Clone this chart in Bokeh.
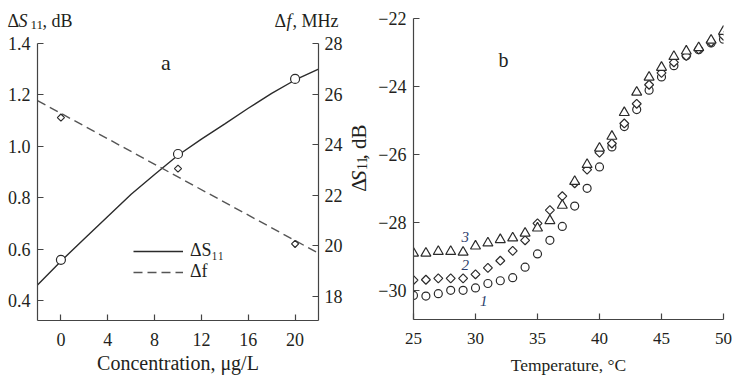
import math
from bokeh.plotting import figure
from bokeh.models import Range1d, LinearAxis, Label, Legend, LegendItem, FixedTicker
from bokeh.layouts import row, column
from bokeh.embed import file_html
from bokeh.resources import INLINE

FONT = "Liberation Serif"
INK = "#231f20"
AXC = "#444444"
LINE = "#2b2b2b"
NUM = "#2c3d6b"

# ---------------- panel a data ----------------
conc_pts = [0, 10, 20]
ds11_pts = [0.558, 0.970, 1.262]
df_pts = [25.07, 23.05, 20.07]
fit_conc = [-2, 0, 2, 4, 6, 8, 10, 12, 14, 16, 18, 20, 22]
fit_ds11 = [0.46, 0.553, 0.64, 0.727, 0.813, 0.89, 0.965, 1.028, 1.087, 1.148, 1.206, 1.258, 1.30]
df_line_conc = [-2, 22]
df_line_vals = [25.74, 19.70]
a_xticks = [0, 4, 8, 12, 16, 20]
a_yticks = [0.4, 0.6, 0.8, 1.0, 1.2, 1.4]
a_ylabels = ["0.4", "0.6", "0.8", "1.0", "1.2", "1.4"]
a_y2ticks = [18, 20, 22, 24, 26, 28]
legend_labels = ["ΔS₁₁", "Δf"]

# ---------------- panel b data ----------------
temp = [25, 26, 27, 28, 29, 30, 31, 32, 33, 34, 35, 36, 37, 38, 39, 40, 41, 42, 43, 44, 45, 46, 47, 48, 49, 50]
s1 = [-30.15, -30.17, -30.10, -30.00, -30.00, -29.93, -29.80, -29.72, -29.63, -29.32, -28.93, -28.53, -28.12,
      -27.52, -27.00, -26.37, -25.78, -25.18, -24.68, -24.11, -23.72, -23.39, -23.10, -22.92, -22.72, -22.61]
s2 = [-29.70, -29.69, -29.65, -29.65, -29.65, -29.53, -29.34, -29.13, -28.84, -28.53, -28.03, -27.64, -27.23,
      -26.85, -26.45, -25.95, -25.68, -25.09, -24.51, -23.95, -23.60, -23.29, -23.10, -22.91, -22.70, -22.51]
s3 = [-28.91, -28.91, -28.86, -28.86, -28.88, -28.70, -28.61, -28.51, -28.46, -28.32, -28.17, -27.95, -27.50,
      -26.80, -26.30, -25.82, -25.47, -24.77, -24.17, -23.73, -23.44, -23.12, -22.96, -22.86, -22.64, -22.38]
b_xticks = [25, 30, 35, 40, 45, 50]
b_yticks = [-30, -28, -26, -24, -22]
b_ylabels = ["−30", "−28", "−26", "−24", "−22"]
curve_names = ["1", "2", "3"]


def style_axis(ax, fs, standoff):
    ax.axis_line_color = AXC
    ax.axis_line_width = 1.2
    ax.major_tick_line_color = AXC
    ax.major_tick_line_width = 1.2
    ax.major_tick_in = 6
    ax.major_tick_out = 0
    ax.minor_tick_line_color = None
    ax.major_label_text_font = FONT
    ax.major_label_text_font_size = fs
    ax.major_label_text_color = INK
    ax.major_label_standoff = standoff
    ax.axis_label_text_font = FONT
    ax.axis_label_text_font_style = "normal"
    ax.axis_label_text_color = INK


def piece(p, x, y, text, size, style="normal", angle=0.0, align="left",
          color=INK, xo=0, yo=0, baseline="alphabetic"):
    lab = Label(x=x, y=y, x_offset=xo, y_offset=yo, text=text, text_font=FONT,
                text_font_size=f"{size}px", text_font_style=style, text_color=color,
                text_align=align, text_baseline=baseline, angle=angle)
    p.add_layout(lab)


def text_strip(width, height, x0, y0):
    """A blank figure whose data coordinates equal canvas pixels (y grows downward)."""
    f = figure(width=width, height=height, x_range=Range1d(x0, x0 + width),
               y_range=Range1d(y0 + height, y0), output_backend="svg",
               toolbar_location=None, title=None, x_axis_location=None, y_axis_location=None,
               min_border=0)
    f.outline_line_color = None
    f.grid.visible = False
    f.background_fill_color = "white"
    f.border_fill_color = "white"
    return f


# ================= header of panel a =================
head = text_strip(370, 33, 0, 0)
piece(head, 7, 20, "Δ", 18)
piece(head, 18, 20, "S", 18, style="italic")
piece(head, 30, 24, "11", 13)
piece(head, 42, 20, ", dB", 18)
piece(head, 274, 20, "Δ", 18)
piece(head, 286, 20, "f", 18, style="italic")
piece(head, 292, 20, ", MHz", 18)

# ================= panel a =================
p1 = figure(width=345, height=344, x_range=Range1d(-2, 22), y_range=Range1d(0.322, 1.4),
            output_backend="svg", toolbar_location=None, title=None,
            min_border_left=37, min_border_right=27, min_border_top=10, min_border_bottom=57)
p1.extra_y_ranges = {"df": Range1d(17.04, 28)}
p1.outline_line_color = None
p1.xgrid.visible = False
p1.ygrid.visible = False
p1.background_fill_color = "white"
p1.border_fill_color = "white"

p1.xaxis.ticker = FixedTicker(ticks=a_xticks)
p1.yaxis.ticker = FixedTicker(ticks=a_yticks)
p1.yaxis.major_label_overrides = {t: l for t, l in zip(a_yticks, a_ylabels)}
style_axis(p1.xaxis[0], "18px", 12)
style_axis(p1.yaxis[0], "18px", 7)
p1.xaxis.axis_label = "Concentration, μg/L"
p1.xaxis.axis_label_text_font_size = "20px"
p1.xaxis.axis_label_standoff = 3

ax_r = LinearAxis(y_range_name="df", ticker=FixedTicker(ticks=a_y2ticks))
style_axis(ax_r, "18px", 6)
p1.add_layout(ax_r, "right")

solid = p1.line(fit_conc, fit_ds11, line_color=LINE, line_width=1.4)
dashed = p1.line(df_line_conc, df_line_vals, y_range_name="df", line_color="#555555",
                 line_width=1.4, line_dash="9 5")
p1.scatter(conc_pts, ds11_pts, marker="circle", size=9, fill_color="white",
           line_color=LINE, line_width=1.2)
p1.scatter(conc_pts, df_pts, y_range_name="df", marker="square", angle=math.pi / 4, size=5,
           fill_color="white", line_color=LINE, line_width=1.2)

leg = Legend(items=[LegendItem(label=legend_labels[0], renderers=[solid]),
                    LegendItem(label=legend_labels[1], renderers=[dashed])],
             location=(96, 38), glyph_width=50, glyph_height=18, label_height=18,
             label_standoff=7, padding=0, margin=0, spacing=-4,
             border_line_color=None, background_fill_alpha=0,
             label_text_font=FONT, label_text_font_size="18px", label_text_color=INK)
p1.add_layout(leg)
piece(p1, 8.96, 1.4, "a", 22, align="center", yo=-18.7)

# ================= rotated y title of panel b =================
ylab = text_strip(25, 344, 345, 33)
rot = math.pi / 2
piece(ylab, 358, 217, "Δ", 21, angle=rot)
piece(ylab, 358, 204, "S", 21, style="italic", angle=rot)
piece(ylab, 361, 190, "11", 14, angle=rot)
piece(ylab, 358, 177, ", dB", 21, angle=rot)

# ================= panel b =================
p2 = figure(width=365, height=377, x_range=Range1d(25, 50), y_range=Range1d(-30.86, -22.0),
            output_backend="svg", toolbar_location=None, title=None,
            min_border_left=43, min_border_right=12, min_border_top=18, min_border_bottom=50)
p2.outline_line_color = None
p2.xgrid.visible = False
p2.ygrid.visible = False
p2.background_fill_color = "white"
p2.border_fill_color = "white"
p2.xaxis.ticker = FixedTicker(ticks=b_xticks)
p2.yaxis.ticker = FixedTicker(ticks=b_yticks)
p2.yaxis.major_label_overrides = {t: l for t, l in zip(b_yticks, b_ylabels)}
style_axis(p2.xaxis[0], "17px", 13)
style_axis(p2.yaxis[0], "18px", 7)
p2.xaxis.axis_label = "Temperature, °C"
p2.xaxis.axis_label_text_font_size = "17.5px"
p2.xaxis.axis_label_standoff = 8

p2.scatter(temp, s1, marker="circle", size=8, fill_color="white", line_color=LINE, line_width=1.2)
p2.scatter(temp, s2, marker="square", angle=math.pi / 4, size=6.3, fill_color="white",
           line_color=LINE, line_width=1.2)
p2.scatter(temp, s3, marker="triangle", size=10, fill_color="white", line_color=LINE, line_width=1.2)

piece(p2, 30.67, -30.31, curve_names[0], 15, style="italic", align="center", color=NUM)
piece(p2, 29.18, -29.25, curve_names[1], 15, style="italic", align="center", color=NUM)
piece(p2, 29.18, -28.44, curve_names[2], 15, style="italic", align="center", color=NUM)
piece(p2, 32.25, -22.0, "b", 20, align="center", yo=-41.7)

layout = row(column(head, row(p1, ylab)), p2)
open("out.html", "w").write(file_html(layout, INLINE))
